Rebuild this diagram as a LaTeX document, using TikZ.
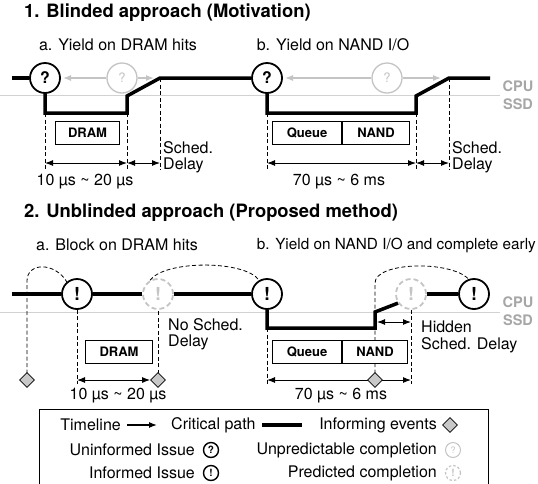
\documentclass[tikz,border=0pt]{standalone}
\usepackage{fontspec}
\setmainfont{TeX Gyre Heros}
\usetikzlibrary{arrows.meta,shapes.geometric}
\definecolor{lg}{HTML}{C4C4C4}
\definecolor{sepg}{HTML}{D2D2D2}
\definecolor{labg}{HTML}{A6A6A6}
\definecolor{dg}{HTML}{C8C8C8}
\begin{document}
\begin{tikzpicture}[x=1pt,y=-1pt,
  txt/.style={font=\fontsize{16}{18}\selectfont, inner sep=0pt},
  ttl/.style={font=\fontsize{18.4}{21}\selectfont\bfseries, inner sep=0pt, anchor=west},
  lab/.style={font=\fontsize{14.5}{16}\selectfont\bfseries, text=labg, inner sep=0pt},
  qk/.style={circle, draw=black, line width=1.8pt, fill=white, minimum size=30pt, inner sep=0pt, font=\fontsize{16}{16}\selectfont\bfseries},
  qg/.style={circle, draw=lg, line width=1.3pt, fill=white, minimum size=30pt, inner sep=0pt, text=lg, font=\fontsize{13}{13}\selectfont},
  qd/.style={circle, draw=lg, dash pattern=on 5pt off 3pt, line width=1.8pt, fill=white, minimum size=30pt, inner sep=0pt, text=lg, font=\fontsize{18}{18}\selectfont\bfseries},
  ek/.style={qk, font=\fontsize{18}{18}\selectfont\bfseries},
  qks/.style={circle, draw=black, line width=1.4pt, fill=white, minimum size=15pt, inner sep=0pt, font=\fontsize{10}{10}\selectfont\bfseries},
  qgs/.style={circle, draw=lg, line width=1pt, fill=white, minimum size=15pt, inner sep=0pt, text=lg, font=\fontsize{9}{9}\selectfont},
  qds/.style={circle, draw=lg, dash pattern=on 2.5pt off 2pt, line width=1.2pt, fill=white, minimum size=15pt, inner sep=0pt, text=lg, font=\fontsize{10}{10}\selectfont\bfseries},
  crit/.style={line width=3.5pt, line join=miter},
  dsh/.style={dash pattern=on 4pt off 2.5pt, line width=0.8pt},
  tl/.style={draw=lg, line width=1.2pt, -{Latex[length=8pt,width=6pt]}},
  dim/.style={line width=1pt, {Latex[length=8pt,width=6pt]}-{Latex[length=8pt,width=6pt]}},
  box/.style={draw, line width=1pt, fill=white, minimum height=23pt, font=\fontsize{13}{13}\selectfont\bfseries, inner sep=0pt, anchor=north west},
  dia/.style={diamond, draw, fill=dg, line width=0.8pt, minimum size=15pt, inner sep=0pt},
  sep/.style={draw=sepg, line width=1pt}
]
\useasboundingbox (0,0) rectangle (538,483);

% ================= Section 1 =================
\node[ttl] (t1) at (24,13) {1. Blinded approach (Motivation)};
\node[txt] (s1a) at (118,45) {a. Yield on DRAM hits};
\node[txt] (s1b) at (333,45) {b. Yield on NAND I/O};

\coordinate (sp1l) at (0,95);
\coordinate (sp1r) at (500,95);
\draw[sep] (sp1l) -- (sp1r);
\node[lab] (cpu1) at (518,86) {CPU};
\node[lab] (ssd1) at (518,104) {SSD};

% 1a
\node[qk] (a1) at (45,78) {?};
\node[qg] (a1g) at (122,78) {?};
\coordinate (a1s) at (12,78);
\coordinate (a1L) at (63,78);
\coordinate (a1R) at (154,78);
\draw[tl] (a1g.west) -- (a1L);
\draw[tl] (a1g.east) -- (a1R);
\coordinate (a1lo) at (45,113);
\coordinate (a1lr) at (127,113);
\coordinate (a1up) at (127,96);
\coordinate (a1dn) at (160,78);
\coordinate (a1b1) at (45,170);
\coordinate (a1b2) at (127,170);
\coordinate (a1b3) at (160,170);
\draw[dsh] (a1lo) -- (a1b1);
\draw[dsh] (a1lr) -- (a1b2);
\draw[dsh] (a1dn) -- (a1b3);
\node[box, minimum width=64pt] (dr1) at (55,121) {DRAM};
\coordinate (a1m1) at (45,163);
\coordinate (a1m2) at (127,163);
\coordinate (a1m3) at (160,163);
\draw[dim] (a1m1) -- (a1m2);
\draw[dim] (a1m2) -- (a1m3);
\node[txt] (a1t) at (85,182) {10 µs \textasciitilde{} 20 µs};
\node[txt, anchor=west] (a1s1) at (163,148) {Sched.};
\node[txt, anchor=west] (a1s2) at (163,165) {Delay};

% 1b
\node[qk] (b1) at (267,78) {?};
\node[qg] (b1g) at (387,78) {?};
\coordinate (b1L) at (285,78);
\coordinate (b1R) at (441,78);
\draw[tl] (b1g.west) -- (b1L);
\draw[tl] (b1g.east) -- (b1R);
\coordinate (b1lo) at (267,113);
\coordinate (b1lr) at (416,113);
\coordinate (b1up) at (416,96);
\coordinate (b1dn) at (449,78);
\coordinate (b1e) at (490,78);
\coordinate (b1b1) at (267,170);
\coordinate (b1b2) at (416,170);
\coordinate (b1b3) at (449,170);
\draw[dsh] (b1lo) -- (b1b1);
\draw[dsh] (b1lr) -- (b1b2);
\draw[dsh] (b1dn) -- (b1b3);
\node[box, minimum width=69pt] (qu1) at (272,121) {Queue};
\node[box, minimum width=67pt] (na1) at (qu1.north east) {NAND};
\coordinate (b1m1) at (267,163);
\coordinate (b1m2) at (416,163);
\coordinate (b1m3) at (449,163);
\draw[dim] (b1m1) -- (b1m2);
\draw[dim] (b1m2) -- (b1m3);
\node[txt] (b1t) at (339,182) {70 µs \textasciitilde{} 6 ms};
\node[txt, anchor=west] (b1s1) at (452,148) {Sched.};
\node[txt, anchor=west] (b1s2) at (452,165) {Delay};

% critical path 1
\draw[crit] (a1s) -- (a1.west);
\draw[crit] (a1.south) -- (a1lo) -- (a1lr) -- (a1up) -- (a1dn) -- (b1.west);
\draw[crit] (b1.south) -- (b1lo) -- (b1lr) -- (b1up) -- (b1dn) -- (b1e);

% ================= Section 2 =================
\node[ttl] (t2) at (24,213) {2. Unblinded approach (Proposed method)};
\node[txt] (s2a) at (117,245) {a. Block on DRAM hits};
\node[txt, anchor=east, font=\fontsize{15.3}{18}\selectfont] (s2b) at (536,245) {b. Yield on NAND I/O and complete early};

\coordinate (sp2l) at (0,312);
\coordinate (sp2r) at (500,312);
\draw[sep] (sp2l) -- (sp2r);
\node[lab] (cpu2) at (518,302) {CPU};
\node[lab] (ssd2) at (518,320) {SSD};

\coordinate (c0) at (12,294);
\node[ek] (c1) at (77,294) {!};
\node[qd] (c1g) at (158,294) {!};
\node[ek] (c2) at (267,294) {!};
\node[qd] (c2g) at (411,294) {!};
\node[ek] (c3) at (474,294) {!};

% diamonds positions
\coordinate (d0p) at (27,380);
\coordinate (d1p) at (158,380);
\coordinate (d2p) at (375,380);

% dashed informing lines
\coordinate (e0t) at (27,281);
\draw[dsh] (d0p) -- (e0t) .. controls (27,262) and (55,262) .. (c1.130);
\coordinate (c1b) at (77,384);
\draw[dsh] (c1.south) -- (c1b);
\draw[dsh] (d1p) -- (c1g.south);
\draw[dsh] (c1g.120) .. controls (165,260) and (245,260) .. (c2.120);
\coordinate (c2lo) at (267,328);
\coordinate (c2b) at (267,384);
\draw[dsh] (c2lo) -- (c2b);
\coordinate (e2t) at (375,283);
\draw[dsh] (d2p) -- (e2t) .. controls (375,262) and (450,260) .. (c3.110);
\coordinate (c2gb) at (411,384);
\draw[dsh] (c2g.south) -- (c2gb);

% boxes
\node[box, minimum width=67pt] (dr2) at (85,340) {DRAM};
\node[box, minimum width=69pt] (qu2) at (272,340) {Queue};
\node[box, minimum width=65pt] (na2) at (qu2.north east) {NAND};

% critical path 2
\coordinate (c2lr) at (375,328);
\coordinate (c2up) at (375,312);
\draw[crit] (c0) -- (c1.west);
\draw[crit] (c1.east) -- (c1g.west);
\draw[crit] (c1g.east) -- (c2.west);
\draw[crit] (c2.south) -- (c2lo) -- (c2lr) -- (c2up) -- (c2g.215);
\draw[crit] (c2g.east) -- (c3.west);

% hidden delay arrow
\coordinate (h1) at (377,322);
\coordinate (h2) at (411,322);
\draw[dim] (h1) -- (h2);

% measurement arrows
\node[dia] (d0) at (d0p) {};
\node[dia] (d1) at (d1p) {};
\coordinate (m2a) at (77,380);
\draw[dim] (m2a) -- (d1.west);
\coordinate (m2b) at (267,380);
\coordinate (m2c) at (411,380);
\draw[dim] (m2b) -- (m2c);
\node[dia] (d2) at (d2p) {};

\node[txt] (c1t) at (118,396) {10 µs \textasciitilde{} 20 µs};
\node[txt] (c2t) at (341,396) {70 µs \textasciitilde{} 6 ms};
\node[txt, anchor=west] (ns1) at (168,325) {No Sched.};
\node[txt, anchor=west] (ns2) at (168,342) {Delay};
\node[txt, anchor=west] (hd1) at (421,327) {Hidden};
\node[txt, anchor=west] (hd2) at (421,345) {Sched. Delay};

% ================= Legend =================
\coordinate (lgA) at (39,409);
\coordinate (lgB) at (488,485);
\draw[line width=1pt] (lgA) rectangle (lgB);
\node[txt, anchor=east] (l1) at (121,425) {Timeline};
\coordinate (l1a) at (127,425);
\coordinate (l1b) at (157,425);
\draw[line width=1.2pt, -{Latex[length=8pt,width=6pt]}] (l1a) -- (l1b);
\node[txt, anchor=west] (l2) at (171,425) {Critical path};
\coordinate (l2a) at (262,425);
\coordinate (l2b) at (302,425);
\draw[crit] (l2a) -- (l2b);
\node[txt, anchor=east] (l3) at (437,425) {Informing events};
\node[dia] (l3d) at (450,425) {};

\node[txt, anchor=east] (l4) at (195,450) {Uninformed Issue};
\node[qks] (l4c) at (211,450) {?};
\node[txt, anchor=east] (l5) at (437,450) {Unpredictable completion};
\node[qgs] (l5c) at (453,450) {?};
\node[txt, anchor=east] (l6) at (195,473) {Informed Issue};
\node[qks] (l6c) at (211,473) {!};
\node[txt, anchor=east] (l7) at (437,473) {Predicted completion};
\node[qds] (l7c) at (453,473) {!};
\end{tikzpicture}
\end{document}
